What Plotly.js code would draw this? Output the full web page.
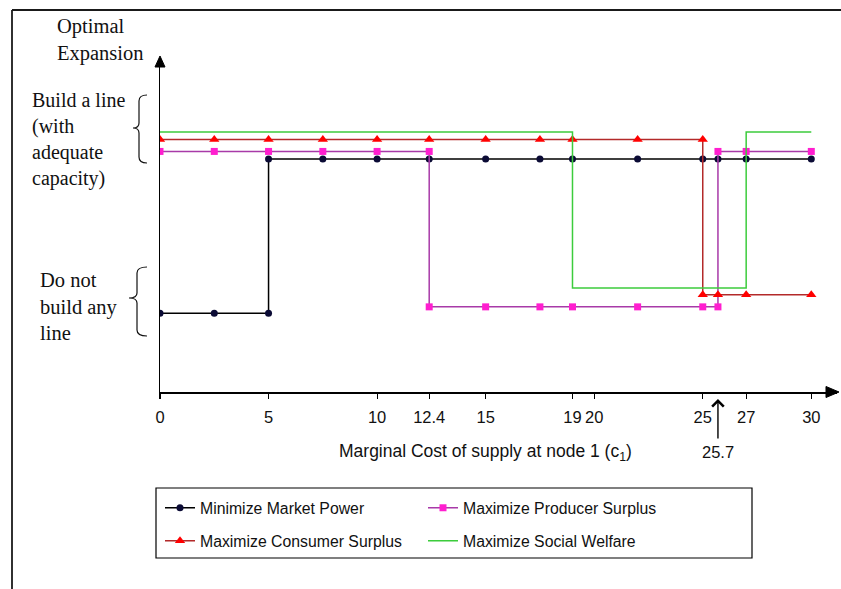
<!DOCTYPE html>
<html>
<head>
<meta charset="utf-8">
<script src="https://cdn.plot.ly/plotly-3.0.1.min.js"></script>
<style>
  html, body { margin: 0; padding: 0; background: #ffffff; }
  #chart { width: 841px; height: 589px; }
</style>
</head>
<body>
<div id="chart"></div>
<script>
// ---------------- DATA ----------------
// x: marginal cost of supply at node 1 (c1)
// y: decision level (low band = "Do not build any line", high band = "Build a line")
const seriesNames = [
  "Minimize Market Power",
  "Maximize Producer Surplus",
  "Maximize Consumer Surplus",
  "Maximize Social Welfare"
];

const marketPowerX = [0, 2.5, 5, 5, 7.5, 10, 12.4, 15, 17.5, 19, 22, 25, 25.7, 27, 30];
const marketPowerY = [2.39, 2.39, 2.39, 7.06, 7.06, 7.06, 7.06, 7.06, 7.06, 7.06, 7.06, 7.06, 7.06, 7.06, 7.06];

const producerX = [0, 2.5, 5, 7.5, 10, 12.4, 12.4, 15, 17.5, 19, 22, 25, 25.7, 25.7, 27, 30];
const producerY = [7.29, 7.29, 7.29, 7.29, 7.29, 7.29, 2.58, 2.58, 2.58, 2.58, 2.58, 2.58, 2.58, 7.29, 7.29, 7.29];

const consumerX = [0, 2.5, 5, 7.5, 10, 12.4, 15, 17.5, 19, 22, 25, 25, 25.7, 27, 30];
const consumerY = [7.65, 7.65, 7.65, 7.65, 7.65, 7.65, 7.65, 7.65, 7.65, 7.65, 7.65, 2.95, 2.95, 2.95, 2.95];

const welfareX = [0, 19, 19, 27, 27, 30];
const welfareY = [7.88, 7.88, 3.15, 3.15, 7.88, 7.88];

const tickValues = [0, 5, 10, 12.4, 15, 19, 20, 25, 27, 30];
const tickLabels = ["0", "5", "10", "12.4", "15", "19", "20", "25", "27", "30"];
const markedCost = 25.7;

// ---------------- LAYOUT HELPERS ----------------
const W = 841, H = 589;
const M = { l: 160, r: 4, t: 58, b: 197 };
const PW = W - M.l - M.r, PH = H - M.t - M.b;
const X_MAX = PW / 21.71;
const Y_MAX = PH / 33;
const px = v => (v - M.l) / PW;       // pixel x -> paper x
const py = v => (H - M.b - v) / PH;   // pixel y -> paper y
const P = (a, b) => px(a).toFixed(5) + "," + py(b).toFixed(5);

function bracePath(endX, spineX, tipX, top, mid, bottom) {
  return "M" + P(endX, top) +
    " Q" + P(spineX, top) + " " + P(spineX, top + 6) +
    " L" + P(spineX, mid - 5) +
    " Q" + P(spineX, mid) + " " + P(tipX, mid) +
    " Q" + P(spineX, mid) + " " + P(spineX, mid + 5) +
    " L" + P(spineX, bottom - 6) +
    " Q" + P(spineX, bottom) + " " + P(endX, bottom);
}

const sans = "Liberation Sans, Arial, sans-serif";
const serif = "Liberation Serif, Times New Roman, serif";

const traces = [
  {
    name: seriesNames[0], x: marketPowerX, y: marketPowerY, mode: "lines+markers",
    line: { color: "#000000", width: 1.5 },
    marker: { symbol: "circle", size: 7, color: "#0b0b35" },
    legend: "legend"
  },
  {
    name: seriesNames[1], x: producerX, y: producerY, mode: "lines+markers",
    line: { color: "#a83aa8", width: 1.5 },
    marker: { symbol: "square", size: 7, color: "#ff1ecf" },
    legend: "legend"
  },
  {
    name: seriesNames[2], x: consumerX, y: consumerY, mode: "lines+markers",
    line: { color: "#b32a2a", width: 1.5 },
    marker: { symbol: "triangle-up", size: 9, color: "#ff0000" },
    legend: "legend2"
  },
  {
    name: seriesNames[3], x: welfareX, y: welfareY, mode: "lines",
    line: { color: "#3ccc3c", width: 1.5 },
    legend: "legend2"
  }
];

const legendCommon = {
  orientation: "h",
  xref: "paper", yref: "paper",
  xanchor: "left", yanchor: "middle",
  bgcolor: "rgba(0,0,0,0)",
  borderwidth: 0,
  font: { family: sans, size: 15.8, color: "#111111" },
  entrywidth: 218, entrywidthmode: "pixels",
  itemclick: false
};

const layout = {
  width: W, height: H,
  margin: M,
  paper_bgcolor: "#ffffff",
  plot_bgcolor: "#ffffff",
  showlegend: true,
  legend: Object.assign({}, legendCommon, { x: px(160), y: py(508) }),
  legend2: Object.assign({}, legendCommon, { x: px(160), y: py(541) }),
  xaxis: {
    range: [0, X_MAX],
    showgrid: false, zeroline: false,
    showline: true, linecolor: "#000000", linewidth: 1.5,
    ticks: "outside", ticklen: 5, tickwidth: 1.2, tickcolor: "#000000",
    tickmode: "array", tickvals: tickValues, ticktext: tickLabels,
    ticklabelstandoff: 5,
    tickfont: { family: sans, size: 16.5, color: "#111111" },
    fixedrange: true
  },
  yaxis: {
    range: [0, Y_MAX],
    showgrid: false, zeroline: false,
    showline: true, linecolor: "#000000", linewidth: 1.5,
    showticklabels: false, ticks: "",
    fixedrange: true
  },
  shapes: [
    // outer frame (left and top edges)
    { type: "line", xref: "paper", yref: "paper", x0: px(12), x1: px(12), y0: py(10), y1: py(600),
      line: { color: "#1a1a1a", width: 1.8 } },
    { type: "line", xref: "paper", yref: "paper", x0: px(12), x1: px(850), y0: py(10), y1: py(10),
      line: { color: "#1a1a1a", width: 1.8 } },
    // legend box
    { type: "rect", xref: "paper", yref: "paper", x0: px(156), x1: px(752), y0: py(488), y1: py(558),
      line: { color: "#000000", width: 1.2 }, fillcolor: "rgba(0,0,0,0)" },
    // braces
    { type: "path", xref: "paper", yref: "paper", path: bracePath(147, 139, 133, 95, 128, 163),
      line: { color: "#111111", width: 1.2 } },
    { type: "path", xref: "paper", yref: "paper", path: bracePath(147, 137, 129, 267, 298, 336),
      line: { color: "#111111", width: 1.2 } },
    // axis arrowheads
    { type: "path", xref: "paper", yref: "paper",
      path: "M" + P(839, 392) + " L" + P(826, 386.5) + " L" + P(826, 397.5) + " Z",
      fillcolor: "#000000", line: { color: "#000000", width: 1 } },
    { type: "path", xref: "paper", yref: "paper",
      path: "M" + P(160, 56) + " L" + P(155, 67) + " L" + P(165, 67) + " Z",
      fillcolor: "#000000", line: { color: "#000000", width: 1 } }
  ],
  annotations: [
    // marked cost 25.7
    { x: markedCost, y: py(399), xref: "x", yref: "paper", ax: 0, ay: 53, axref: "pixel", ayref: "pixel",
      text: String(markedCost), showarrow: true, arrowhead: 4, arrowsize: 1.6, arrowwidth: 1.4,
      arrowcolor: "#000000", standoff: 0, startstandoff: 3,
      font: { family: sans, size: 16.5, color: "#111111" } },
    // x axis title
    { x: px(485), y: py(452), xref: "paper", yref: "paper", xanchor: "center", yanchor: "middle",
      text: "Marginal Cost of supply at node 1 (c<sub>1</sub>)", showarrow: false,
      font: { family: sans, size: 17.5, color: "#111111" } },
    // y axis title
    { x: px(55), y: py(40), xref: "paper", yref: "paper", xanchor: "left", yanchor: "middle", align: "left",
      text: "Optimal<br>Expansion", showarrow: false,
      font: { family: serif, size: 20.5, color: "#111111" } },
    // band labels
    { x: px(30), y: py(139), xref: "paper", yref: "paper", xanchor: "left", yanchor: "middle", align: "left",
      text: "Build a line<br>(with<br>adequate<br>capacity)", showarrow: false,
      font: { family: serif, size: 20, color: "#111111" } },
    { x: px(38), y: py(306), xref: "paper", yref: "paper", xanchor: "left", yanchor: "middle", align: "left",
      text: "Do not<br>build any<br>line", showarrow: false,
      font: { family: serif, size: 20.5, color: "#111111" } }
  ]
};

Plotly.newPlot("chart", traces, layout, { displayModeBar: false, staticPlot: true });
</script>
</body>
</html>
